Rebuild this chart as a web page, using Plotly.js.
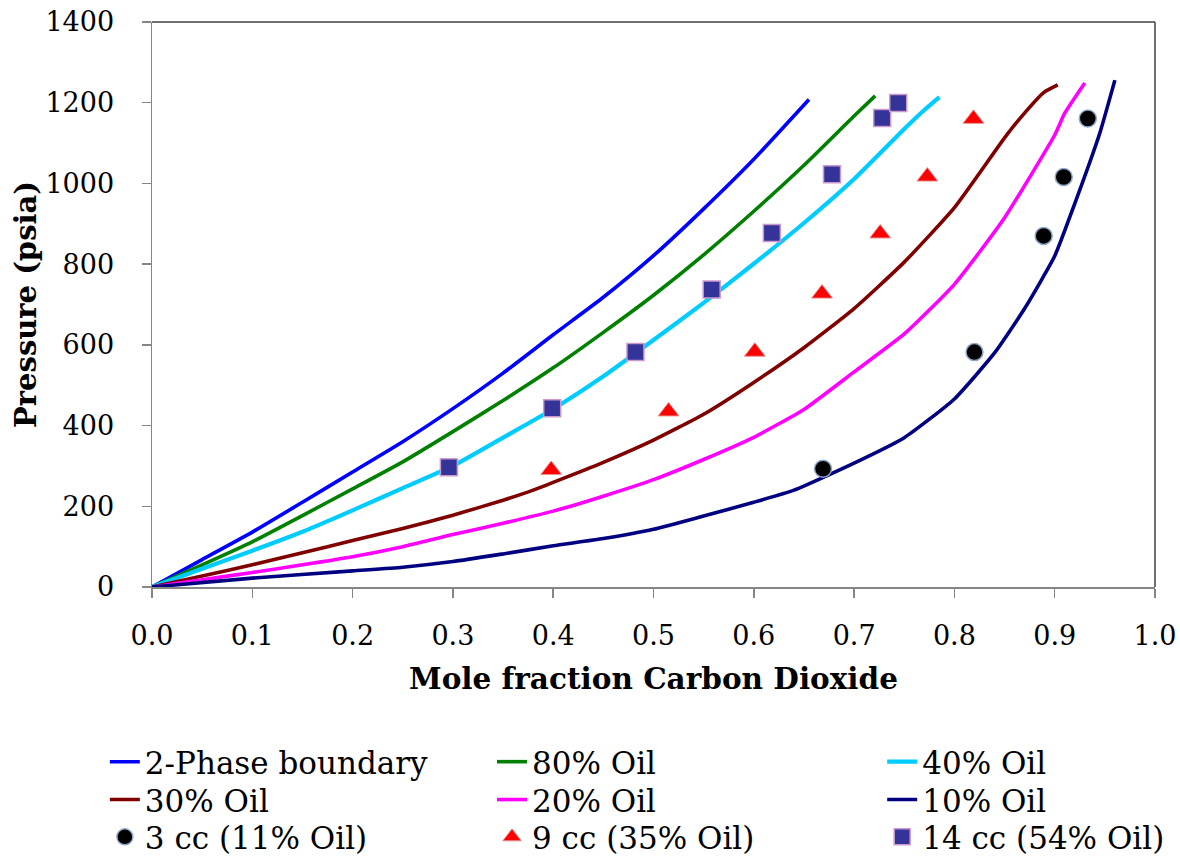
<!DOCTYPE html>
<html>
<head>
<meta charset="utf-8">
<script src="https://cdn.plot.ly/plotly-3.0.1.min.js"></script>
<style>html,body{margin:0;padding:0;background:#fff;}</style>
</head>
<body>
<div id="chart" style="width:1180px;height:857px;"></div>
<script>
// ---- data ----
const x2Phase = [0,0.05,0.1,0.15,0.2,0.25,0.3,0.35,0.4,0.45,0.5,0.55,0.6,0.655];
const p2Phase = [0,68,136,210,285,360,442,530,625,718,821,937,1060,1208];

const x80 = [0,0.05,0.1,0.15,0.2,0.25,0.3,0.35,0.4,0.45,0.5,0.55,0.6,0.65,0.7,0.721];
const p80 = [0,55,112,177,243,310,385,462,543,631,723,823,931,1045,1167,1217];

const x40 = [0,0.05,0.1,0.15,0.2,0.25,0.3,0.35,0.4,0.45,0.5,0.55,0.6,0.65,0.7,0.75,0.77,0.785];
const p40 = [0,45,90,137,190,245,300,370,441,522,612,704,801,902,1011,1135,1182,1214];

const x30 = [0,0.05,0.1,0.15,0.2,0.25,0.3,0.35,0.38,0.45,0.5,0.55,0.6,0.65,0.7,0.75,0.8,0.85,0.865,0.889,0.903];
const p30 = [0,27,55,85,115,145,178,215,240,309,364,428,507,593,690,805,940,1113,1160,1225,1244];

const x20 = [0,0.05,0.1,0.15,0.2,0.25,0.3,0.35,0.4,0.45,0.5,0.55,0.6,0.65,0.7,0.75,0.8,0.85,0.9,0.91,0.93];
const p20 = [0,18,36,55,75,100,130,158,188,225,266,316,371,440,533,627,750,915,1120,1174,1249];

const x10 = [0,0.1,0.2,0.25,0.3,0.35,0.4,0.45,0.5,0.55,0.6,0.64,0.7,0.75,0.8,0.84,0.87,0.9,0.92,0.945,0.96];
const p10 = [0,22,40,49,63,82,102,120,143,176,210,240,307,370,466,580,690,820,950,1125,1256];

const x3cc = [0.669,0.820,0.889,0.909,0.933];
const p3cc = [293,582,870,1016,1161];

const x9cc = [0.398,0.515,0.601,0.668,0.726,0.773,0.819];
const p9cc = [290,435,583,727,876,1017,1160];

const x14cc = [0.296,0.399,0.482,0.558,0.618,0.678,0.728,0.744];
const p14cc = [297,443,582,737,877,1023,1162,1199];

const xTickVals = [0,0.1,0.2,0.3,0.4,0.5,0.6,0.7,0.8,0.9,1.0];
const yTickVals = [0,200,400,600,800,1000,1200,1400];

// ---- traces ----
function lineTrace(x, y, name, color, legend, width) {
  return {x: x, y: y, name: name, type: 'scatter', mode: 'lines',
    line: {color: color, width: width || 3.6, shape: 'spline', smoothing: 0.5},
    legend: legend};
}
const traces = [
  lineTrace(x2Phase, p2Phase, '2-Phase boundary', '#0000FF', 'legend'),
  lineTrace(x80, p80, '80% Oil', '#008000', 'legend2'),
  lineTrace(x40, p40, '40% Oil', '#00CCFF', 'legend3', 4.2),
  lineTrace(x30, p30, '30% Oil', '#800000', 'legend4'),
  lineTrace(x20, p20, '20% Oil', '#FF00FF', 'legend5'),
  lineTrace(x10, p10, '10% Oil', '#000080', 'legend6'),
  {x: x3cc, y: p3cc, name: '3 cc (11% Oil)', type: 'scatter', mode: 'markers', legend: 'legend7',
    marker: {symbol: 'circle', size: 17, color: '#000000', line: {color: '#8fa8c8', width: 1.5}}},
  {x: x9cc, y: p9cc, name: '9 cc (35% Oil)', type: 'scatter', mode: 'markers', legend: 'legend8',
    marker: {symbol: 'triangle-up', size: 18, color: '#FF0000', line: {color: '#e89090', width: 1}}},
  {x: x14cc, y: p14cc, name: '14 cc (54% Oil)', type: 'scatter', mode: 'markers', legend: 'legend9',
    marker: {symbol: 'square', size: 17, color: '#333399', line: {color: '#cc99cc', width: 1.5}}}
];

const FONT = 'DejaVu Serif, Liberation Serif, serif';
function leg(x, y) {
  return {orientation: 'v', xanchor: 'left', yanchor: 'top', x: x, y: y,
    bgcolor: 'rgba(0,0,0,0)', borderwidth: 0,
    font: {family: FONT, size: 31, color: '#000'}};
}
const colX = [-0.047, 0.339, 0.728];
const rowY = [-0.262, -0.329, -0.395];

const layout = {
  width: 1180, height: 857,
  margin: {l: 152, r: 25, t: 22, b: 270, autoexpand: false},
  paper_bgcolor: '#fff', plot_bgcolor: '#fff',
  font: {family: FONT, size: 27, color: '#000'},
  showlegend: true,
  legend: leg(colX[0], rowY[0]),
  legend2: leg(colX[1], rowY[0]),
  legend3: leg(colX[2], rowY[0]),
  legend4: leg(colX[0], rowY[1]),
  legend5: leg(colX[1], rowY[1]),
  legend6: leg(colX[2], rowY[1]),
  legend7: leg(colX[0], rowY[2]),
  legend8: leg(colX[1], rowY[2]),
  legend9: leg(colX[2], rowY[2]),
  xaxis: {
    range: [0, 1], tickvals: xTickVals, tickformat: '.1f',
    showgrid: false, zeroline: false,
    showline: true, linecolor: '#868686', linewidth: 1.5,
    ticks: 'outside', ticklen: 9, tickcolor: '#868686', tickwidth: 1.5,
    ticklabelstandoff: 15,
    tickfont: {family: FONT, size: 27, color: '#000'},
    title: {text: 'Mole fraction Carbon Dioxide', standoff: 18,
      font: {family: FONT, size: 29.5, color: '#000', weight: 'bold'}}
  },
  yaxis: {
    range: [0, 1400], tickvals: yTickVals,
    showgrid: false, zeroline: false,
    showline: true, linecolor: '#868686', linewidth: 1.5,
    ticks: 'outside', ticklen: 9, tickcolor: '#868686', tickwidth: 1.5,
    ticklabelstandoff: 22,
    tickfont: {family: FONT, size: 27, color: '#000'},
    title: {text: 'Pressure (psia)', standoff: 0,
      font: {family: FONT, size: 29, color: '#000', weight: 'bold'}}
  },
  shapes: [
    {type: 'line', xref: 'paper', yref: 'paper', x0: 0, x1: 1, y0: 1, y1: 1,
      line: {color: '#404040', width: 1.5}},
    {type: 'line', xref: 'paper', yref: 'paper', x0: 1, x1: 1, y0: 0, y1: 1,
      line: {color: '#404040', width: 1.5}}
  ]
};

Plotly.newPlot('chart', traces, layout, {displayModeBar: false, staticPlot: true});
</script>
</body>
</html>
